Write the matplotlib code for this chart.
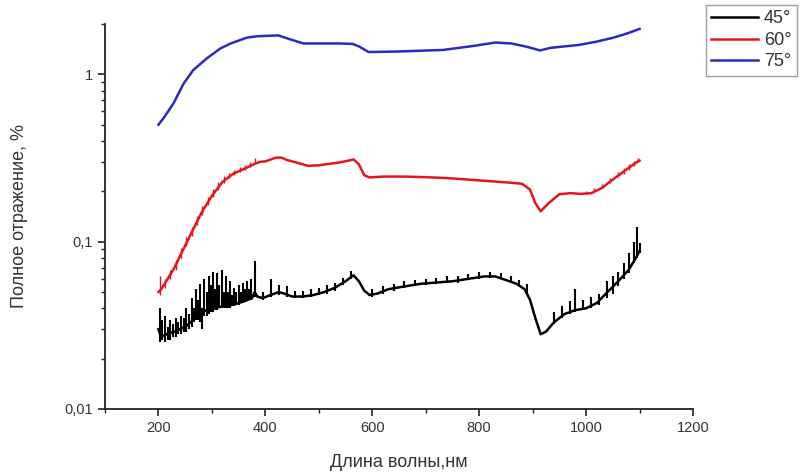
import numpy as np
import matplotlib.pyplot as plt
from matplotlib.ticker import FixedLocator, MultipleLocator, FuncFormatter

plt.rcParams['font.family'] = ['Liberation Sans', 'DejaVu Sans']

# ---- data (wavelength nm, total reflectance %) ----
blue_x = [200, 210, 228, 247, 265, 291, 316, 335, 366, 385, 405, 424, 441, 471, 500,
          540, 563, 575, 593, 650, 733, 790, 830, 860, 886, 900, 914, 933, 960, 987,
          1020, 1052, 1080, 1100]
blue_y = [0.50, 0.55, 0.67, 0.88, 1.06, 1.25, 1.43, 1.53, 1.66, 1.69, 1.70, 1.71, 1.64,
          1.53, 1.53, 1.53, 1.52, 1.47, 1.36, 1.37, 1.40, 1.48, 1.55, 1.53, 1.47, 1.43,
          1.39, 1.44, 1.47, 1.50, 1.57, 1.66, 1.77, 1.87]

red_x = [200, 205, 210, 220, 230, 245, 260, 280, 300, 320, 340, 360, 380, 390, 400,
         420, 430, 440, 460, 480, 500, 520, 540, 555, 565, 575, 585, 595, 620, 660,
         700, 740, 780, 820, 860, 880, 895, 905, 915, 930, 950, 970, 990, 1010, 1030,
         1050, 1070, 1090, 1100]
red_y = [0.050, 0.052, 0.055, 0.062, 0.070, 0.088, 0.110, 0.148, 0.188, 0.228, 0.255,
         0.272, 0.292, 0.300, 0.302, 0.318, 0.318, 0.308, 0.296, 0.284, 0.286, 0.292,
         0.298, 0.305, 0.310, 0.290, 0.250, 0.242, 0.245, 0.245, 0.243, 0.240, 0.235,
         0.230, 0.225, 0.222, 0.205, 0.170, 0.152, 0.170, 0.192, 0.195, 0.193, 0.195,
         0.210, 0.235, 0.262, 0.292, 0.305]
# small saw-tooth spikes on the red curve
red_spike_x = [203, 212, 222, 232, 242, 252, 262, 272, 282, 292, 302, 312, 322, 332, 342,
               352, 362, 372, 380, 1000, 1015, 1030, 1045, 1060, 1070, 1080, 1090, 1098]
red_spike_lo = [0.048, 0.053, 0.060, 0.068, 0.080, 0.094, 0.108, 0.126, 0.145, 0.165,
                0.185, 0.205, 0.225, 0.240, 0.252, 0.262, 0.270, 0.280, 0.290,
                0.192, 0.200, 0.210, 0.225, 0.245, 0.255, 0.268, 0.285, 0.300]
red_spike_hi = [0.062, 0.060, 0.068, 0.078, 0.092, 0.106, 0.122, 0.142, 0.164, 0.186,
                0.206, 0.228, 0.246, 0.258, 0.268, 0.278, 0.286, 0.298, 0.315,
                0.200, 0.210, 0.222, 0.240, 0.262, 0.274, 0.290, 0.305, 0.318]

black_x = [200, 205, 215, 230, 250, 265, 280, 300, 320, 340, 360, 375, 380, 385, 395,
           410, 425, 435, 450, 470, 490, 510, 530, 550, 565, 575, 585, 595, 610, 630,
           660, 690, 720, 750, 780, 810, 830, 850, 870, 885, 895, 905, 915, 925, 940,
           960, 980, 1000, 1020, 1040, 1060, 1080, 1095, 1100]
black_y = [0.030, 0.027, 0.028, 0.029, 0.031, 0.034, 0.038, 0.040, 0.041, 0.042, 0.044,
           0.046, 0.050, 0.047, 0.046, 0.048, 0.050, 0.049, 0.047, 0.047, 0.048, 0.050,
           0.053, 0.058, 0.063, 0.058, 0.051, 0.048, 0.049, 0.052, 0.054, 0.056, 0.057,
           0.058, 0.060, 0.062, 0.062, 0.059, 0.056, 0.052, 0.045, 0.035, 0.028, 0.029,
           0.033, 0.037, 0.039, 0.040, 0.043, 0.050, 0.058, 0.068, 0.082, 0.088]
# vertical noise spikes on the black curve
black_spike_x = [202, 207, 212, 217, 222, 227, 232, 237, 242, 247, 252, 257, 262, 266,
                 270, 274, 278, 282, 286, 290, 294, 298, 302, 306, 310, 314, 318, 322,
                 326, 330, 334, 338, 342, 346, 350, 354, 358, 362, 366, 370, 374, 381,
                 395, 410, 425, 440, 455, 470, 485, 500, 515, 530, 545, 560, 600, 620,
                 640, 660, 680, 700, 720, 740, 760, 780, 800, 820, 840, 860, 875, 890,
                 940, 955, 970, 980, 995, 1010, 1025, 1040, 1050, 1060, 1070, 1080,
                 1090, 1095, 1100]
black_spike_lo = [0.025, 0.026, 0.025, 0.026, 0.026, 0.027, 0.027, 0.028, 0.028, 0.029,
                  0.029, 0.030, 0.031, 0.033, 0.034, 0.034, 0.033, 0.030, 0.036, 0.036,
                  0.037, 0.038, 0.038, 0.039, 0.039, 0.040, 0.040, 0.040, 0.040, 0.040,
                  0.040, 0.041, 0.041, 0.042, 0.042, 0.043, 0.043, 0.044, 0.044, 0.045,
                  0.045, 0.047, 0.045, 0.047, 0.048, 0.047, 0.046, 0.046, 0.047, 0.048,
                  0.049, 0.051, 0.055, 0.060, 0.047, 0.049, 0.051, 0.053, 0.054, 0.055,
                  0.056, 0.057, 0.057, 0.059, 0.060, 0.061, 0.060, 0.057, 0.054, 0.049,
                  0.032, 0.035, 0.037, 0.038, 0.039, 0.040, 0.042, 0.046, 0.049, 0.054,
                  0.060, 0.065, 0.075, 0.080, 0.085]
black_spike_hi = [0.040, 0.034, 0.036, 0.031, 0.034, 0.032, 0.035, 0.033, 0.036, 0.035,
                  0.040, 0.037, 0.046, 0.040, 0.052, 0.045, 0.056, 0.040, 0.060, 0.050,
                  0.062, 0.055, 0.066, 0.052, 0.065, 0.055, 0.068, 0.050, 0.062, 0.050,
                  0.058, 0.048, 0.053, 0.050, 0.055, 0.050, 0.057, 0.052, 0.058, 0.052,
                  0.060, 0.077, 0.050, 0.060, 0.055, 0.054, 0.051, 0.051, 0.052, 0.053,
                  0.055, 0.057, 0.061, 0.067, 0.052, 0.054, 0.056, 0.058, 0.059, 0.060,
                  0.061, 0.062, 0.062, 0.064, 0.066, 0.066, 0.065, 0.062, 0.059, 0.056,
                  0.038, 0.041, 0.044, 0.052, 0.045, 0.047, 0.049, 0.058, 0.062, 0.066,
                  0.075, 0.085, 0.100, 0.122, 0.098]

labels = ['45°', '60°', '75°']

# =============================================================================

fig = plt.figure(figsize=(8.02, 4.72), dpi=100)
ax = fig.add_axes([105 / 802, 1 - 409 / 472, (693 - 105) / 802, (409 - 24) / 472])

ax.plot(black_x, black_y, color='black', lw=1.8, label=labels[0])
ax.vlines(black_spike_x, black_spike_lo, black_spike_hi, color='black', lw=1.5)
ax.plot(red_x, red_y, color='#e8141c', lw=1.8, label=labels[1])
ax.vlines(red_spike_x, red_spike_lo, red_spike_hi, color='#e8141c', lw=1.0)
ax.plot(blue_x, blue_y, color='#2b2bc0', lw=1.8, label=labels[2])

ax.set_yscale('log')
ax.set_xlim(100, 1200)
ax.set_ylim(0.01, 2.0)

ax.xaxis.set_major_locator(FixedLocator([200, 400, 600, 800, 1000, 1200]))
ax.xaxis.set_minor_locator(MultipleLocator(100))
ax.yaxis.set_major_locator(FixedLocator([0.01, 0.1, 1]))
ax.yaxis.set_major_formatter(FuncFormatter(lambda v, p: {0.01: '0,01', 0.1: '0,1', 1: '1'}.get(round(v, 2), '')))

for s in ['top', 'right']:
    ax.spines[s].set_visible(False)
for s in ['left', 'bottom']:
    ax.spines[s].set_linewidth(1.3)
    ax.spines[s].set_color('#222222')

ax.tick_params(which='major', direction='out', length=5, width=1.2, colors='#222222',
               labelsize=10.5, labelcolor='#333333')
ax.tick_params(which='minor', direction='out', length=3, width=1.0, colors='#222222')

ax.set_xlabel('Длина волны,нм', fontsize=13, color='#333333', labelpad=14)
ax.set_ylabel('Полное отражение, %', fontsize=13, color='#333333', labelpad=26)

leg = fig.legend(loc='upper left', bbox_to_anchor=(706 / 802, 1 - 5 / 472),
                 borderaxespad=0, fontsize=13, frameon=True, fancybox=False,
                 handlelength=2.6, handletextpad=0.3, labelspacing=0.25, borderpad=0.3)
leg.get_frame().set_edgecolor('#888888')
leg.get_frame().set_linewidth(1.0)
for t in leg.get_texts():
    t.set_color('#333333')

fig.savefig('out.png', dpi=100)
